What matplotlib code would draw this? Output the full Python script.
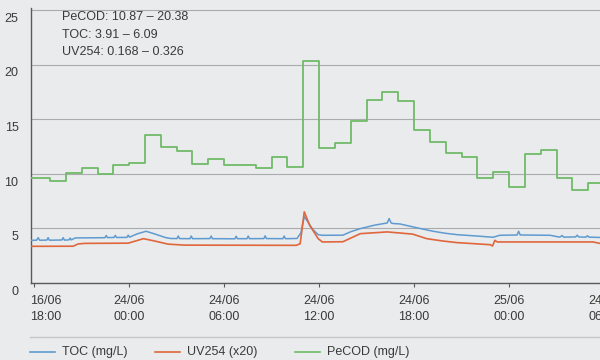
import matplotlib
matplotlib.use("Agg")
import matplotlib.pyplot as plt
from matplotlib.lines import Line2D
from matplotlib.transforms import ScaledTranslation

plt.rcParams['font.family'] = ['Liberation Sans', 'DejaVu Sans']

# hours since 16/06 18:00
tick_hours = [0, 6, 12, 18, 24, 30, 36]
tick_labels = ["16/06\n18:00", "24/06\n00:00", "24/06\n06:00", "24/06\n12:00",
               "24/06\n18:00", "25/06\n00:00", "24/06\n06:00"]
y_ticks = [0, 5, 10, 15, 20, 25]

# PeCOD: hourly readings (step series), edges in hours
pecod_edges = [-0.2] + list(range(1, 36)) + [36.4]
pecod = [9.6, 9.3, 10.1, 10.5, 10.0, 10.8, 11.0, 13.6, 12.5, 12.1, 10.9, 11.4,
         10.8, 10.8, 10.5, 11.5, 10.6, 20.38, 12.4, 12.8, 14.8, 16.8, 17.5, 16.7,
         14.0, 12.9, 11.9, 11.5, 9.6, 10.2, 8.8, 11.8, 12.2, 9.6, 8.5, 9.2]

# TOC (mg/L), online sensor
toc_t = [-0.2, 0.15, 0.25, 0.35, 0.8, 0.88, 0.96, 1.75, 1.83, 1.91, 2.2, 2.27,
         2.34, 2.6, 4.47, 4.55, 4.63, 5.04, 5.12, 5.2, 5.86, 5.94, 6.02, 6.5,
         7.07, 7.6, 8.28, 8.6, 9.02, 9.1, 9.18, 9.84, 9.92, 10.0, 11.1, 11.18,
         11.26, 12.68, 12.76, 12.84, 13.44, 13.52, 13.6, 14.51, 14.59, 14.67,
         15.71, 15.79, 15.87, 16.6, 16.85, 17.06, 17.25, 17.6, 17.94, 18.2,
         19.5, 20.0, 20.6, 21.5, 22.3, 22.42, 22.55, 22.68, 23.1, 24.2, 25.2,
         26.0, 26.7, 28.0, 29.0, 29.4, 30.5, 30.6, 30.7, 32.6, 33.2, 33.35,
         33.45, 34.2, 34.3, 34.4, 34.85, 34.95, 35.05, 36.4]
toc = [3.91, 3.92, 4.15, 3.92, 3.93, 4.15, 3.92, 3.94, 4.15, 3.93, 3.95, 4.12,
       3.95, 4.13, 4.15, 4.35, 4.16, 4.17, 4.36, 4.17, 4.18, 4.38, 4.2, 4.5,
       4.74, 4.5, 4.17, 4.08, 4.07, 4.3, 4.07, 4.06, 4.3, 4.06, 4.07, 4.3,
       4.06, 4.05, 4.28, 4.06, 4.06, 4.3, 4.06, 4.07, 4.32, 4.07,
       4.06, 4.3, 4.06, 4.08, 4.6, 6.09, 5.68, 4.9, 4.43, 4.37,
       4.38, 4.7, 4.98, 5.3, 5.5, 5.9, 5.5, 5.45, 5.41, 5.05, 4.74,
       4.55, 4.43, 4.3, 4.19, 4.37, 4.4, 4.74, 4.4, 4.37, 4.2, 4.35,
       4.2, 4.22, 4.38, 4.22, 4.2, 4.33, 4.2, 4.15]

# UV254 absorbance, scaled x20
uv_t = [-0.2, 2.46, 2.78, 3.2, 5.94, 6.9, 7.6, 8.46, 9.5, 16.55, 16.8, 17.06,
        17.4, 17.94, 18.2, 19.5, 20.6, 22.3, 23.9, 24.8, 25.8, 26.7, 28.8,
        28.95, 29.1, 29.25, 35.3, 35.8, 36.4]
uv = [3.36, 3.37, 3.58, 3.63, 3.65, 4.06, 3.85, 3.56, 3.47, 3.45, 3.6, 6.52,
      5.29, 4.06, 3.76, 3.78, 4.52, 4.68, 4.48, 4.06, 3.85, 3.70, 3.51,
      3.39, 3.91, 3.76, 3.76, 3.61, 3.58]

ranges = ["PeCOD: 10.87 \u2013 20.38", "TOC: 3.91 \u2013 6.09", "UV254: 0.168 \u2013 0.326"]

bg = '#e9ebec'
c_toc = '#5f9bd1'
c_uv = '#e0663c'
c_pecod = '#70bb68'
txt = '#3a3a3a'

fig = plt.figure(figsize=(6, 3.6), dpi=100, facecolor=bg)
ax = fig.add_axes([0.0517, 0.2139, 0.9657, 0.764], facecolor=bg)

ax.plot(toc_t, toc, color=c_toc, lw=1.1, zorder=3)
ax.plot(uv_t, uv, color=c_uv, lw=1.2, zorder=3)
ax.step(pecod_edges, pecod + [pecod[-1]], where='post', color=c_pecod, lw=1.3, zorder=4)

ax.set_xlim(-0.2, 36.4)
ax.set_ylim(0, 25.2)
ax.set_yticks(y_ticks)
ax.set_xticks(tick_hours)
ax.set_xticklabels(tick_labels, linespacing=1.35)
ax.grid(axis='y', color='#a9abac', lw=0.8)
ax.set_axisbelow(True)

for s in ['top', 'right']:
    ax.spines[s].set_visible(False)
for s in ['left', 'bottom']:
    ax.spines[s].set_color('#5a5a5a')
    ax.spines[s].set_linewidth(1.0)

ax.tick_params(axis='x', length=3, width=0.8, color='#5a5a5a', labelsize=9,
               labelcolor=txt, pad=6)
ax.tick_params(axis='y', length=0, labelsize=9, labelcolor=txt, pad=9)

# y labels sit just under their gridline
down = ScaledTranslation(0, -2 / 72, fig.dpi_scale_trans)
for lab in ax.get_yticklabels():
    lab.set_va('top')
    lab.set_transform(lab.get_transform() + down)
# first date label starts at the axis line
first = ax.get_xticklabels()[0]
first.set_ha('left')
first.set_transform(first.get_transform() + ScaledTranslation(-3 / 72, 0, fig.dpi_scale_trans))

for i, line in enumerate(ranges):
    ax.text(62 / 600, 1 - (17 + 17.5 * i) / 360, line, transform=fig.transFigure,
            fontsize=9, color=txt, va='center', ha='left')

# legend strip under the plot
fig.add_artist(Line2D([0.05, 1.0], [0.0639, 0.0639], color='#c4c6c7', lw=1.0))
legend_items = [("TOC (mg/L)", c_toc, 30), ("UV254 (x20)", c_uv, 155),
                ("PeCOD (mg/L)", c_pecod, 295)]
for name, col, x0 in legend_items:
    fig.add_artist(Line2D([x0 / 600, (x0 + 25) / 600], [0.0222, 0.0222], color=col, lw=1.2))
    fig.text((x0 + 32) / 600, 0.0222, name, fontsize=9, color=txt, va='center', ha='left')

fig.savefig('out.png', dpi=100, facecolor=bg)
